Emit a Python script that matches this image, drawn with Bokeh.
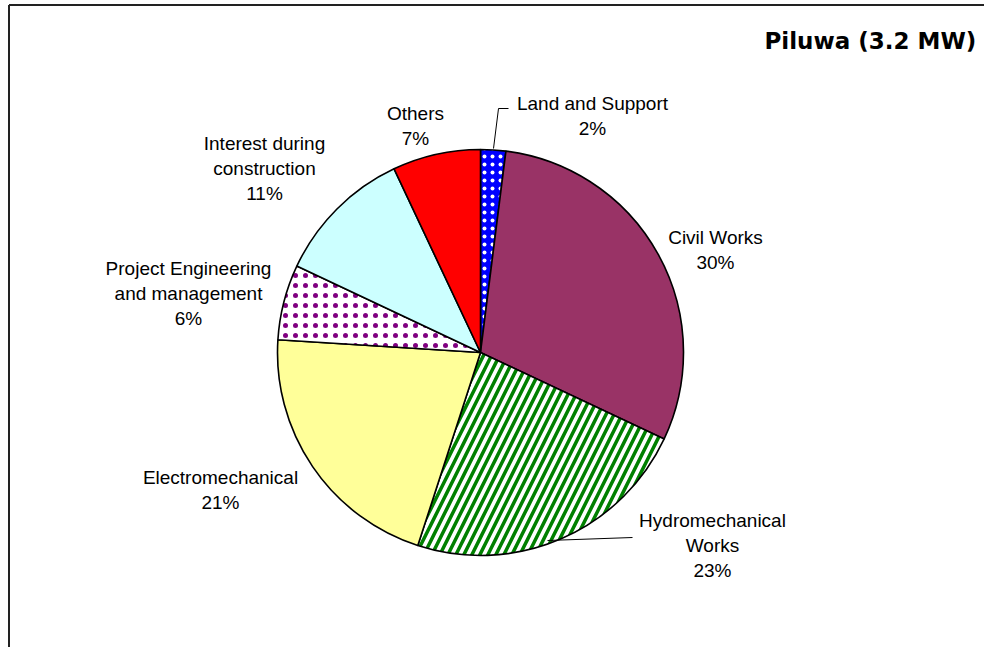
import numpy as np
from bokeh.plotting import figure
from bokeh.models import ColumnDataSource, Range1d
from bokeh.core.properties import value
from bokeh.embed import file_html
from bokeh.resources import INLINE

W, H = 984, 647

# ---------------- data ----------------
categories = ["Land and Support", "Civil Works", "Hydromechanical Works",
              "Electromechanical", "Project Engineering and management",
              "Interest during construction", "Others"]
label_lines = [["Land and Support"], ["Civil Works"], ["Hydromechanical", "Works"],
               ["Electromechanical"], ["Project Engineering", "and management"],
               ["Interest during", "construction"], ["Others"]]
shares = [2, 30, 23, 21, 6, 11, 7]
title_text = "Piluwa (3.2 MW)"

# ---------------- styles ----------------
fill_colors = ["#0000FF", "#993366", "#FFFFFF", "#FFFF99", "#FFFFFF", "#CCFFFF", "#FF0000"]
hatch_patterns = ["dot", " ", "right_diagonal_line", " ", "dot", " ", " "]
hatch_colors = ["#FFFFFF", "#000000", "#008000", "#000000", "#800080", "#000000", "#000000"]
hatch_scales = [8.0, 6.0, 16.0, 6.0, 10.0, 6.0, 6.0]
hatch_weights = [1.5, 1.0, 3.5, 1.0, 2.0, 1.0, 1.0]

# ---------------- layout (screen pixels, y downwards) ----------------
pie_cx, pie_cy, pie_r = 480, 352, 203
label_x = [592, 715, 712, 220, 188, 264, 415]
label_base_y = [103, 237, 520, 477, 268, 143, 113]
line_gap = 25
leader_xs = [[508, 498, 493], [632, 547]]
leader_ys = [[108, 108, 148], [537, 540]]


def fy(y):
    return H - y


vals = np.array(shares, dtype=float)
frac = vals / vals.sum()
cum = np.cumsum(frac)
start = np.pi / 2 - 2 * np.pi * (cum - frac)
end = np.pi / 2 - 2 * np.pi * cum

wedge_src = ColumnDataSource(dict(
    x=[pie_cx] * len(vals), y=[fy(pie_cy)] * len(vals),
    start=start, end=end, fill=fill_colors, hp=hatch_patterns,
    hc=hatch_colors, hs=hatch_scales, hw=hatch_weights, cat=categories,
))

tx, ty, tt = [], [], []
for i, lines in enumerate(label_lines):
    rows = lines + [f"{shares[i]}%"]
    for j, r in enumerate(rows):
        tx.append(label_x[i])
        ty.append(fy(label_base_y[i] + j * line_gap))
        tt.append(r)
text_src = ColumnDataSource(dict(x=tx, y=ty, text=tt))

p = figure(width=W, height=H, x_range=Range1d(0, W), y_range=Range1d(0, H),
           output_backend="svg", toolbar_location=None, min_border=0,
           x_axis_location=None, y_axis_location=None)
p.outline_line_color = None
p.grid.visible = False
p.background_fill_color = "#FFFFFF"
p.border_fill_color = "#FFFFFF"

# chart-area frame (extends past the window on right & bottom)
p.segment(x0=[8.5, 8.5], y0=[0, fy(4.5)], x1=[8.5, W], y1=[fy(4.5), fy(4.5)],
          line_color="#222222", line_width=2)

p.wedge(x="x", y="y", radius=pie_r, start_angle="start", end_angle="end",
        direction="clock", source=wedge_src, fill_color="fill",
        hatch_pattern="hp", hatch_color="hc", hatch_scale="hs", hatch_weight="hw",
        line_color="#000000", line_width=1.6)

p.multi_line(xs=leader_xs, ys=[[fy(v) for v in ys] for ys in leader_ys],
             line_color="#000000", line_width=1)

p.text(x="x", y="y", text="text", source=text_src, text_align="center",
       text_baseline="alphabetic", text_font=value("Liberation Sans"),
       text_font_size="19px", text_color="#000000")

p.text(x=[764], y=[fy(40)], text=[title_text], text_align="left",
       text_baseline="alphabetic", text_font=value("DejaVu Sans"),
       text_font_style="bold", text_font_size="23px", text_color="#000000")

open("out.html", "w").write(file_html(p, INLINE))
